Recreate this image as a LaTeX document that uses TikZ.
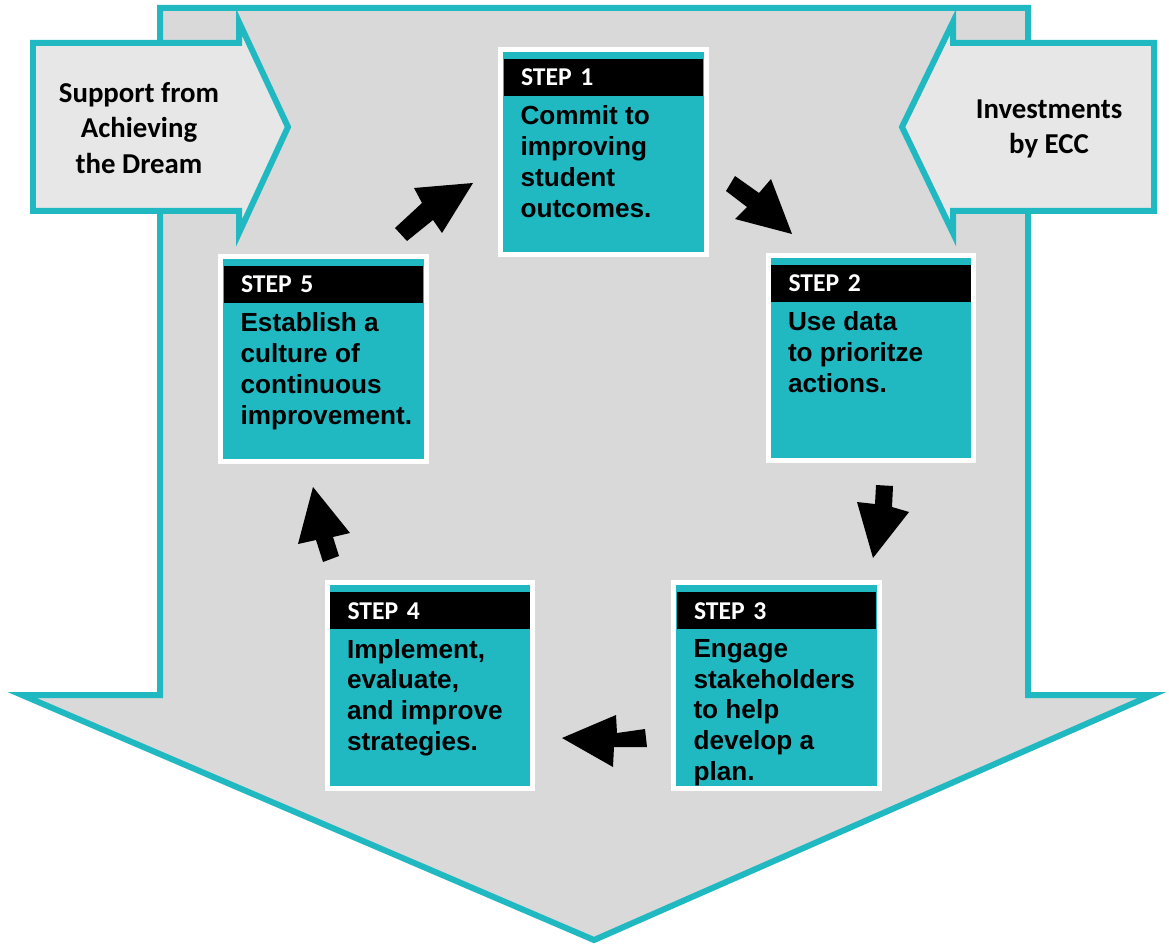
\documentclass[tikz,border=0pt]{standalone}
\usepackage{fontspec}
\setmainfont{Liberation Sans}
\newfontfamily\carlito{Carlito}
\usetikzlibrary{positioning}

\begin{document}
\begin{tikzpicture}[
		x=0.02cm, y=-0.02cm,
		line join=miter,
		]
		% colours of the chart
		\definecolor{ecTeal}{HTML}{20B9C2}
		\definecolor{ecGray}{HTML}{D9D9D9}
		\definecolor{ecLight}{HTML}{E7E7E7}
		
		% styles
		\tikzset{
			outline/.style={draw=ecTeal, line width=0.12cm},
			stepbox/.style={rectangle, fill=ecTeal, draw=white, line width=0.1cm,
				minimum width=4.12cm, minimum height=4.12cm, inner sep=0pt},
			stephead/.style={rectangle, fill=black, text=white, align=left,
				font=\carlito\bfseries\fontsize{14.6}{16}\selectfont,
				text width=3.3cm, inner xsep=0.35cm, inner ysep=0pt, minimum height=0.74cm},
			steptext/.style={inner sep=0pt, align=left,
				font=\bfseries\fontsize{14.9}{17.6}\selectfont},
			sidetext/.style={align=center, font=\carlito\bfseries\fontsize{16.4}{20.4}\selectfont},
			turn/.style={fill=black}
		}
		
		\useasboundingbox (0,0) rectangle (1169,949);
		
		% ===== big arrow down =====
		\filldraw[outline, fill=ecGray] (160,8) -- (1028,8) -- (1028,695) -- (1152,695)
			-- (594,940) -- (22,695) -- (160,695) -- cycle;
		
		% ===== side arrows =====
		\filldraw[outline, fill=ecLight] (33,43) -- (239,43) -- (239,22) -- (288,127)
			-- (239,233) -- (239,211) -- (33,211) -- cycle;
		\filldraw[outline, fill=ecLight] (1154,43) -- (953,43) -- (953,22) -- (902,127)
			-- (953,233) -- (953,211) -- (1154,211) -- cycle;
		\node[sidetext] (support) at (139,128) {Support from\\Achieving\\the Dream};
		\node[sidetext] (invest) at (1049,129) {Investments\\by ECC};
		
		% ===== steps =====
		\node[stepbox] (step1) at (603.5,152) {};
		\node[stephead, below=0.24cm of step1.north] (head1) {STEP 1};
		\node[steptext, below right=0.18cm and 0.34cm of head1.south west] (text1)
			{Commit to\\improving\\student\\outcomes.};
		
		\node[stepbox] (step2) at (871,358) {};
		\node[stephead, below=0.24cm of step2.north] (head2) {STEP 2};
		\node[steptext, below right=0.18cm and 0.34cm of head2.south west] (text2)
			{Use data\\to prioritze\\actions.};
		
		\node[stepbox] (step3) at (776.5,685.5) {};
		\node[stephead, below=0.24cm of step3.north] (head3) {STEP 3};
		\node[steptext, below right=0.18cm and 0.34cm of head3.south west] (text3)
			{Engage\\stakeholders\\to help\\develop a\\plan.};
		
		\node[stepbox] (step4) at (430,685.5) {};
		\node[stephead, below=0.24cm of step4.north] (head4) {STEP 4};
		\node[steptext, below right=0.18cm and 0.34cm of head4.south west] (text4)
			{Implement,\\evaluate,\\and improve\\strategies.};
		
		\node[stepbox] (step5) at (323.5,359) {};
		\node[stephead, below=0.24cm of step5.north] (head5) {STEP 5};
		\node[steptext, below right=0.18cm and 0.34cm of head5.south west] (text5)
			{Establish a\\culture of\\continuous\\improvement.};
		
		% ===== black arrows between steps =====
		\fill[turn] (395,228) -- (422,203) -- (414,188) -- (473,183) -- (442,233)
			-- (433,220) -- (407,241) -- cycle;
		\fill[turn] (735,176) -- (759,193) -- (771,179) -- (792,234) -- (735,219)
			-- (747,207) -- (726,191) -- cycle;
		\fill[turn] (876,485) -- (893,486) -- (892,507) -- (909,512) -- (873,558)
			-- (857,502) -- (875,504) -- cycle;
		\fill[turn] (645,729) -- (617,733) -- (616,715) -- (562,738) -- (613,767)
			-- (614,747) -- (647,747) -- cycle;
		\fill[turn] (313,487) -- (350,533) -- (333,537) -- (339,556) -- (323,562)
			-- (316,540) -- (298,544) -- cycle;
		
\end{tikzpicture}
\end{document}
